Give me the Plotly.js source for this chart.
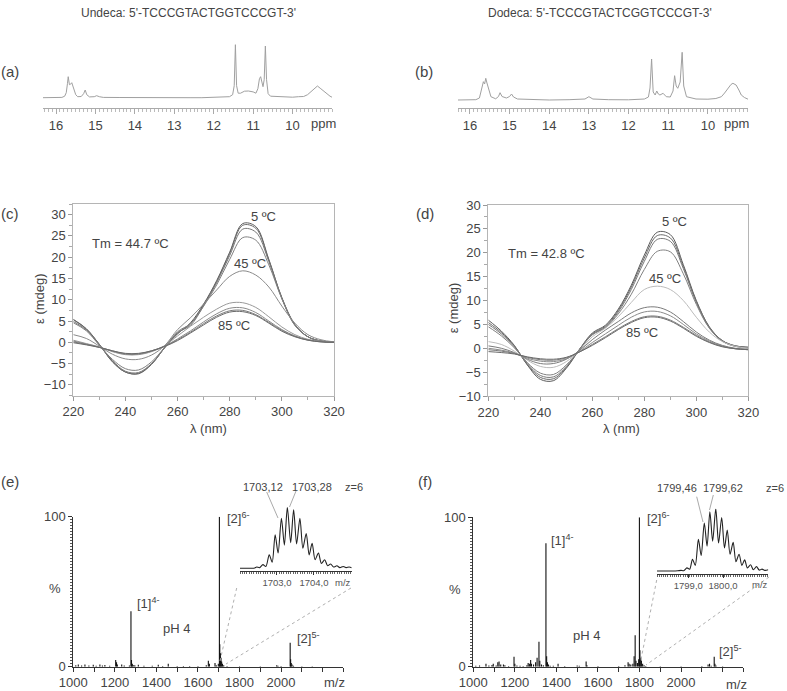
<!DOCTYPE html>
<html><head><meta charset="utf-8">
<script src="https://cdn.plot.ly/plotly-3.0.1.min.js"></script>
<style>html,body{margin:0;padding:0;background:#fff;}#chart{width:787px;height:691px;}</style>
</head><body><div id="chart"></div>
<script>
// ---------------- DATA ----------------
// (a) 1H NMR, Undeca  (ppm, intensity in arbitrary units)
const nmrA_ppm = [16.33,15.85,15.78,15.74,15.71,15.69,15.66,15.63,15.60,15.57,15.54,15.50,15.45,15.36,15.30,15.26,15.22,15.15,15.03,14.97,14.90,14.80,14.4,14.0,13.5,13.0,12.6,12.3,11.9,11.6,11.52,11.48,11.45,11.42,11.38,11.32,11.22,11.12,11.00,10.93,10.88,10.84,10.81,10.77,10.75,10.72,10.69,10.66,10.62,10.56,10.3,10.0,9.85,9.72,9.62,9.50,9.42,9.37,9.30,9.20,9.13,9.05,9.00];
const nmrA_int = [0,0.3,1.5,5,14,21,13,13.5,15,12,9,3,1,1.2,4,7.7,3,0.8,1,2,1,0.3,0.2,0,0.2,-0.3,0,0,0.5,1,3,12,53,12,4.5,4.5,6.5,6.7,5.8,4.5,9,19,21,12,11,18,51.7,18,4,1.5,0.8,0.5,1,1.2,3,7,10,11.7,9.5,6,4,1.5,0.5];
// (b) 1H NMR, Dodeca
const nmrB_ppm = [16.30,15.85,15.76,15.70,15.66,15.63,15.60,15.57,15.54,15.50,15.47,15.35,15.28,15.24,15.19,15.08,15.00,14.95,14.90,14.80,14.4,14.0,13.5,13.1,13.0,12.9,12.5,12.0,11.6,11.50,11.46,11.42,11.38,11.33,11.29,11.25,11.21,11.13,11.05,10.95,10.88,10.84,10.80,10.76,10.70,10.65,10.61,10.54,10.3,10.0,9.80,9.66,9.58,9.50,9.42,9.37,9.32,9.29,9.22,9.16,9.08,9.01,8.99];
const nmrB_int = [0,0.3,2,12,18.3,16,21.7,17,13.3,7,3.3,1.2,3.5,7.3,3.5,2,3.5,6,3,1,0.5,0,0.3,1,3.3,1,0.3,0.2,1,3,12,41,8,5,9,6,5,6.7,3.3,3,9,24.3,14,11.7,18,47.7,14,3.3,1,0.8,1.5,3.3,7,11.7,15.5,16.7,16,15,10,5,2.5,1,0.8];
const nmrTickVals = [10,11,12,13,14,15,16];

// (c)/(d) CD spectra: wavelength (nm) and ellipticity (mdeg) per temperature
const cdWavelength = [220,225,230,235,240,245,250,255,260,265,270,275,280,285,290,295,300,305,310,315,320];
const cdTemps = ['5 ºC','15 ºC','25 ºC','35 ºC','45 ºC','55 ºC','65 ºC','75 ºC','85 ºC'];
const cdUndeca_5  = [5.4,3.2,-0.5,-4.6,-7.0,-7.4,-5.2,-1.3,2.0,4.6,9.0,14.5,21.2,27.9,27.2,19.5,10.5,4.2,1.3,0.3,0.0];
const cdUndeca_15 = [5.3,3.1,-0.5,-4.5,-7.0,-7.3,-5.1,-1.3,2.1,4.3,8.8,14.3,20.9,27.5,26.8,19.3,10.4,4.1,1.3,0.3,0.0];
const cdUndeca_25 = [4.9,2.9,-0.6,-4.3,-6.8,-7.1,-5.0,-1.3,2.3,4.0,8.6,14.0,20.4,26.6,25.9,19.0,10.3,4.0,1.3,0.3,0.0];
const cdUndeca_35 = [4.6,2.7,-0.7,-4.0,-6.2,-6.5,-4.6,-1.2,2.5,4.4,8.5,13.5,19.5,24.6,24.0,18.2,10.2,4.0,1.3,0.3,0.0];
const cdUndeca_45 = [1.8,0.9,-0.9,-2.8,-3.9,-4.0,-3.0,-0.8,3.0,5.8,9.0,12.3,15.5,16.8,15.8,13.0,8.5,4.5,1.8,0.6,0.1];
const cdUndeca_55 = [0.5,-0.3,-1.1,-2.2,-2.9,-2.9,-2.2,-0.8,1.5,3.8,5.9,7.8,9.2,9.3,8.2,6.0,3.6,1.8,0.7,0.2,0.0];
const cdUndeca_65 = [0.3,-0.4,-1.1,-2.1,-2.8,-2.8,-2.1,-0.9,0.8,2.7,4.8,6.7,8.0,8.1,7.0,5.0,3.0,1.5,0.6,0.2,0.0];
const cdUndeca_75 = [0.1,-0.5,-1.2,-2.0,-2.7,-2.7,-2.0,-0.9,0.6,2.4,4.4,6.2,7.4,7.5,6.5,4.7,2.8,1.4,0.5,0.1,0.0];
const cdUndeca_85 = [-0.1,-0.6,-1.2,-2.0,-2.6,-2.6,-2.0,-1.0,0.4,2.2,4.1,5.9,7.1,7.2,6.3,4.5,2.6,1.3,0.5,0.1,0.0];
const cdDodeca_5  = [5.9,3.6,0.6,-3.5,-6.5,-6.8,-4.2,-0.3,3.2,4.8,8.2,13.2,19.5,24.3,23.8,17.5,10.0,4.5,1.6,0.5,0.2];
const cdDodeca_15 = [5.4,3.3,0.5,-3.4,-6.1,-6.4,-4.0,-0.3,3.0,4.6,7.9,12.8,18.9,23.6,23.1,17.1,9.8,4.4,1.6,0.5,0.2];
const cdDodeca_25 = [5.0,3.0,0.3,-3.2,-5.7,-6.0,-3.8,-0.3,2.9,4.4,7.6,12.3,18.2,22.8,22.4,16.7,9.6,4.3,1.5,0.4,0.1];
const cdDodeca_35 = [4.5,2.6,0.1,-3.0,-5.2,-5.5,-3.5,-0.3,2.8,4.3,7.2,11.3,16.5,20.3,20.2,15.6,9.2,4.2,1.5,0.4,0.1];
const cdDodeca_45 = [1.4,0.8,-0.6,-2.5,-3.8,-4.0,-2.8,-0.5,2.4,4.2,6.6,9.6,12.3,13.0,12.3,10.0,6.5,3.4,1.4,0.4,0.0];
const cdDodeca_55 = [0.5,0.0,-0.9,-2.3,-3.2,-3.2,-2.3,-0.5,1.8,3.8,5.6,7.4,8.5,8.6,7.6,5.6,3.4,1.7,0.6,0.0,-0.2];
const cdDodeca_65 = [0.0,-0.4,-1.0,-2.1,-2.7,-2.8,-2.2,-0.7,1.2,3.0,4.8,6.5,7.6,7.7,6.8,5.0,3.0,1.5,0.5,-0.1,-0.3];
const cdDodeca_75 = [-0.3,-0.6,-1.1,-1.9,-2.4,-2.5,-2.0,-0.8,0.8,2.4,4.1,5.6,6.6,6.7,5.9,4.4,2.7,1.3,0.4,-0.1,-0.3];
const cdDodeca_85 = [-0.7,-0.9,-1.2,-1.8,-2.2,-2.3,-1.9,-0.8,0.6,2.2,3.9,5.4,6.4,6.5,5.7,4.2,2.5,1.2,0.3,-0.1,-0.3];

// (e)/(f) ESI-MS: m/z and relative intensity (%)
const msUndeca_mz  = [1012,1024,1040,1056,1075,1096,1110,1128,1140,1152,1175,1204,1208,1212,1233,1245,1270,1277.5,1280,1284,1288,1296,1313,1340,1380,1409,1430,1457,1500,1530,1560,1600,1640,1650,1655,1682,1688,1698,1703.2,1705,1708,1711,1714,1718,1724,1740,1800,1900,1979,1985,2000,2043.8,2046,2049,2053,2060,2100,2150];
const msUndeca_int = [1.0,1.5,0.8,1.5,0.8,1.3,0.7,1.5,0.8,1.2,0.6,4.5,3.0,1.5,1.5,0.8,0.8,36.9,4.5,2.0,1.2,1.0,1.3,0.6,0.6,1.3,0.5,2.0,0.5,0.5,0.4,0.5,1.0,4.0,2.0,2.5,1.0,2.0,100,15,9,6,3.5,2,1.0,0.5,0.3,0.3,1.0,0.6,0.4,16.0,5,2.5,1.5,0.7,0.3,0.3];
const msDodeca_mz  = [1012,1030,1061,1075,1090,1096,1110,1118,1124,1132,1145,1152,1170,1196,1200,1210,1225,1240,1258,1264,1270,1276,1280,1290,1300,1307,1316,1320,1328,1337,1349.6,1353,1357,1362,1370,1385,1408,1440,1500,1510,1543,1547,1600,1700,1730,1745,1750,1758,1768,1774,1779,1783,1790,1796,1799.5,1802,1806,1809,1815,1822,1830,1900,2000,2100,2130,2137,2145,2159.5,2163,2168,2200];
const msDodeca_int = [0.6,0.8,2.0,0.8,1.2,2.0,0.8,3.0,3.5,1.5,1.5,1.0,0.5,6.7,2.0,0.8,0.6,0.5,1.0,2.5,2.0,4.5,2.0,1.5,3.0,6.0,16.7,4,1.5,1.0,82.6,7,3,1.5,0.6,0.6,2.0,0.4,0.8,0.6,3.5,1.0,0.4,0.5,1.0,3.0,2.0,1.5,2.0,7.0,21,4,2.5,5,100,11,6,4,2,1,0.5,0.3,0.3,0.4,1.5,2.0,0.6,6.7,2,0.8,0.3];
const msTickVals = [1000,1200,1400,1600,1800,2000];
const msTickText = ['1000','1200','1400','1600','1800','2000'];

// insets: isotopic profile of [2]6-
const isoUndeca_mz  = [1702.00,1702.30,1702.40,1702.45,1702.53,1702.62,1702.70,1702.79,1702.87,1702.95,1703.03,1703.12,1703.20,1703.28,1703.37,1703.45,1703.53,1703.62,1703.70,1703.79,1703.87,1703.95,1704.03,1704.12,1704.20,1704.29,1704.37,1704.45,1704.53,1704.62,1704.70,1704.79,1704.87,1704.95,1705.02];
const isoUndeca_int = [0,0,0.5,2,1,6,3,22,10,55,25,82,38,100,42,96,40,82,33,57,22,41,14,25,8,14,4,7,2,4,1,3,1,2,1];
const isoDodeca_mz  = [1798.10,1798.62,1798.70,1798.79,1798.87,1798.96,1799.04,1799.12,1799.20,1799.29,1799.37,1799.46,1799.54,1799.62,1799.70,1799.79,1799.87,1799.96,1800.04,1800.12,1800.20,1800.29,1800.37,1800.46,1800.54,1800.62,1800.70,1800.79,1800.87,1800.96,1801.04,1801.12,1801.20,1801.30];
const isoDodeca_int = [0,0,0.3,1,0.5,5,3,19,9,51,25,77,40,95,48,100,45,86,37,66,27,46,15,27,9,18,5,10,2,7,1.5,3,1,2];
const isoUndecaTicks = [1703,1704], isoUndecaText = ['1703,0','1704,0'];
const isoDodecaTicks = [1799,1800], isoDodecaText = ['1799,0','1800,0'];

// ---------------- HELPERS ----------------
const W = 787, H = 691;
const X = p => p / W, Y = p => 1 - p / H;
const dx = (a, b) => [a / W, b / W];
const dy = (top, bottom) => [1 - bottom / H, 1 - top / H];
const FONT = 'Liberation Sans, Arial, Helvetica, sans-serif';
const TXT = '#444';
function sticks(mz, inten) {
  const x = [], y = [];
  for (let i = 0; i < mz.length; i++) { x.push(mz[i], mz[i], null); y.push(0, inten[i], null); }
  return {x, y};
}

// ---------------- TRACES ----------------
const traces = [];
traces.push({x: nmrA_ppm, y: nmrA_int, xaxis: 'x', yaxis: 'y', mode: 'lines', line: {color: '#a0a0a0', width: 1}});
traces.push({x: nmrB_ppm, y: nmrB_int, xaxis: 'x2', yaxis: 'y2', mode: 'lines', line: {color: '#a0a0a0', width: 1}});

const cdU = [cdUndeca_5, cdUndeca_15, cdUndeca_25, cdUndeca_35, cdUndeca_45, cdUndeca_55, cdUndeca_65, cdUndeca_75, cdUndeca_85];
const cdD = [cdDodeca_5, cdDodeca_15, cdDodeca_25, cdDodeca_35, cdDodeca_45, cdDodeca_55, cdDodeca_65, cdDodeca_75, cdDodeca_85];
const cdColorsU = ['#5a5a5a', '#6a6a6a', '#777', '#808080', '#8a8a8a', '#999', '#8a8a8a', '#7a7a7a', '#6a6a6a'];
const cdColorsD = ['#5a5a5a', '#6a6a6a', '#777', '#808080', '#bbb', '#7a7a7a', '#8a8a8a', '#7a7a7a', '#6a6a6a'];
cdU.forEach((s, i) => traces.push({x: cdWavelength, y: s, name: cdTemps[i], xaxis: 'x3', yaxis: 'y3', mode: 'lines', line: {color: cdColorsU[i], width: 1, shape: 'spline', smoothing: 1}}));
cdD.forEach((s, i) => traces.push({x: cdWavelength, y: s, name: cdTemps[i], xaxis: 'x4', yaxis: 'y4', mode: 'lines', line: {color: cdColorsD[i], width: 1, shape: 'spline', smoothing: 1}}));

const sE = sticks(msUndeca_mz, msUndeca_int), sF = sticks(msDodeca_mz, msDodeca_int);
traces.push({x: sE.x, y: sE.y, xaxis: 'x5', yaxis: 'y5', mode: 'lines', line: {color: '#111', width: 1.1}, connectgaps: false});
traces.push({x: sF.x, y: sF.y, xaxis: 'x6', yaxis: 'y6', mode: 'lines', line: {color: '#111', width: 1.1}, connectgaps: false});
traces.push({x: isoUndeca_mz, y: isoUndeca_int, xaxis: 'x7', yaxis: 'y7', mode: 'lines', line: {color: '#222', width: 1.1, shape: 'spline', smoothing: 0.8}});
traces.push({x: isoDodeca_mz, y: isoDodeca_int, xaxis: 'x8', yaxis: 'y8', mode: 'lines', line: {color: '#222', width: 1.1, shape: 'spline', smoothing: 0.8}});

// ---------------- AXES ----------------
const tf = (s, c) => ({family: FONT, size: s, color: c || TXT});
function nmrX(dom, range, anchor) {
  return {domain: dom, range: range, anchor: anchor, showline: true, linecolor: '#aaa', linewidth: 1,
    ticks: 'outside', ticklen: 5, tickcolor: '#aaa', tickmode: 'array', tickvals: nmrTickVals,
    minor: {tickmode: 'linear', tick0: 0, dtick: 0.1, ticklen: 2.5, tickcolor: '#bbb', ticks: 'outside'},
    showgrid: false, zeroline: false, tickfont: tf(13)};
}
function cdX(dom, anchor) {
  return {domain: dom, range: [220, 320], anchor: anchor, showline: true, mirror: true, linecolor: '#b5b5b5',
    ticks: 'outside', ticklen: 4, tickcolor: '#999', tickmode: 'linear', tick0: 0, dtick: 20,
    minor: {dtick: 10, ticklen: 3, tickcolor: '#aaa', ticks: 'outside'},
    showgrid: false, zeroline: false, tickfont: tf(13)};
}
function cdY(dom, range, anchor) {
  return {domain: dom, range: range, anchor: anchor, showline: true, mirror: true, linecolor: '#b5b5b5',
    ticks: 'outside', ticklen: 4, tickcolor: '#999', tickmode: 'linear', tick0: 0, dtick: 5,
    minor: {dtick: 2.5, ticklen: 3, tickcolor: '#aaa', ticks: 'outside'},
    showgrid: false, zeroline: false, tickfont: tf(13)};
}
function msX(dom, anchor) {
  return {domain: dom, range: [1000, 2300], anchor: anchor, showline: true, linecolor: '#333', linewidth: 1,
    ticks: 'outside', ticklen: 4, tickcolor: '#333', tickmode: 'array', tickvals: msTickVals, ticktext: msTickText,
    minor: {tickmode: 'linear', tick0: 1000, dtick: 100, ticklen: 4, tickcolor: '#333', ticks: 'outside'},
    showgrid: false, zeroline: false, tickfont: tf(13)};
}
function msY(dom, anchor) {
  return {domain: dom, range: [0, 100], anchor: anchor, showline: true, linecolor: '#333', linewidth: 1,
    ticks: 'outside', ticklen: 4, tickcolor: '#333', tickmode: 'linear', tick0: 0, dtick: 100,
    minor: {dtick: 2, ticklen: 2.5, tickcolor: '#555', ticks: 'outside'},
    showgrid: false, zeroline: false, tickfont: tf(13)};
}
function insX(dom, range, anchor, tv, tt) {
  return {domain: dom, range: range, anchor: anchor, showline: true, linecolor: '#333', linewidth: 1,
    ticks: 'outside', ticklen: 3, tickcolor: '#333', tickmode: 'array', tickvals: tv, ticktext: tt,
    minor: {tickmode: 'linear', tick0: range[0], dtick: 0.0625, ticklen: 2, tickcolor: '#666', ticks: 'outside'},
    showgrid: false, zeroline: false, tickfont: tf(9.5, '#555')};
}
const hidY = (dom, range, anchor) => ({domain: dom, range: range, anchor: anchor, visible: false, fixedrange: true});

// ---------------- ANNOTATIONS ----------------
const ann = [];
function T(text, x, y, size, opts) {
  ann.push(Object.assign({text: text, x: X(x), y: Y(y), xref: 'paper', yref: 'paper', showarrow: false,
    xanchor: 'center', yanchor: 'middle', font: tf(size)}, opts || {}));
}
T("Undeca: 5'-TCCCGTACTGGTCCCGT-3'", 188.5, 13.3, 12);
T("Dodeca: 5'-TCCCGTACTCGGTCCCGT-3'", 600, 13.3, 12);
T('(a)', 10, 72, 15); T('(b)', 424, 72, 15); T('(c)', 10, 213, 15);
T('(d)', 425, 213, 15); T('(e)', 10, 482, 15); T('(f)', 425, 482, 15);
T('ppm', 323, 124, 13); T('ppm', 736.7, 124, 13);
T('Tm = 44.7 ºC', 130.5, 243.3, 13); T('Tm = 42.8 ºC', 546.7, 253.3, 13);
T('5 ºC', 263, 216.7, 13); T('45 ºC', 250, 263.3, 13); T('85 ºC', 233.7, 325.7, 13);
T('5 ºC', 674, 221.7, 13); T('45 ºC', 665, 278.3, 13); T('85 ºC', 642, 332.3, 13);
T('ε (mdeg)', 40, 299, 13, {textangle: -90}); T('ε (mdeg)', 453.3, 308, 13, {textangle: -90});
T('λ (nm)', 208, 428.3, 13); T('λ (nm)', 621.7, 428.3, 13);
// MS
T('[2]<sup>6-</sup>', 225, 518, 13, {xanchor: 'left'});
T('[1]<sup>4-</sup>', 135, 603, 13, {xanchor: 'left'});
T('pH 4', 176.7, 628, 13);
T('[2]<sup>5-</sup>', 295, 638, 13, {xanchor: 'left'});
T('%', 55, 588, 13); T('m/z', 334, 682.7, 13);
T('1703,12', 263.3, 486.7, 11); T('1703,28', 311.7, 486.7, 11); T('z=6', 354, 486.7, 11);
T('m/z', 343, 582, 9.5, {font: tf(9.5, '#555')});
T('[2]<sup>6-</sup>', 645, 518, 13, {xanchor: 'left'});
T('[1]<sup>4-</sup>', 549, 540, 13, {xanchor: 'left'});
T('pH 4', 586.7, 635, 13);
T('[2]<sup>5-</sup>', 716.7, 650.7, 13, {xanchor: 'left'});
T('%', 455, 589, 13); T('m/z', 736, 684, 13);
T('1799,46', 676.7, 488.3, 11); T('1799,62', 723.3, 488.3, 11); T('z=6', 786, 488.3, 11, {xanchor: 'right'});
T('m/z', 760, 584, 9.5, {font: tf(9.5, '#555')});

// ---------------- SHAPES (connectors / leaders) ----------------
function L(x0, y0, x1, y1, dash, color) {
  return {type: 'line', xref: 'paper', yref: 'paper', x0: X(x0), y0: Y(y0), x1: X(x1), y1: Y(y1),
    line: {color: color || '#b0b0b0', width: 1, dash: dash || 'solid'}};
}
const shapes = [
  L(236.7, 588, 220, 661, 'dot'), L(351, 588, 226, 664, 'dot'),
  L(656.7, 580, 640.5, 662, 'dot'), L(769, 577, 646, 665, 'dot'),
  L(266.7, 492, 278, 518, 'solid', '#aaa'), L(296, 491, 289.5, 507, 'solid', '#aaa'),
  L(696.7, 496.7, 703, 522, 'solid', '#aaa'), L(713.3, 495, 709.5, 510, 'solid', '#aaa')
];

const layout = {
  width: W, height: H, margin: {l: 0, r: 0, t: 0, b: 0},
  paper_bgcolor: '#fff', plot_bgcolor: 'rgba(0,0,0,0)', showlegend: false,
  font: {family: FONT, color: TXT},
  xaxis: nmrX(dx(43, 332), [16.33, 9.0], 'y'),
  yaxis: hidY(dy(40, 108), [-10.3, 57.7], 'x'),
  xaxis2: nmrX(dx(458, 748), [16.30, 8.99], 'y2'),
  yaxis2: hidY(dy(40, 108), [-8, 60], 'x2'),
  xaxis3: cdX(dx(73.3, 334), 'y3'),
  yaxis3: cdY(dy(204, 395.5), [-12.5, 32.5], 'x3'),
  xaxis4: cdX(dx(488.3, 748.3), 'y4'),
  yaxis4: cdY(dy(205, 396), [-10, 30], 'x4'),
  xaxis5: msX(dx(73.3, 343.4), 'y5'),
  yaxis5: msY(dy(516.7, 666.7), 'x5'),
  xaxis6: msX(dx(473.3, 743.4), 'y6'),
  yaxis6: msY(dy(517.3, 666.7), 'x6'),
  xaxis7: insX(dx(240, 351.7), [1702, 1705.02], 'y7', isoUndecaTicks, isoUndecaText),
  yaxis7: hidY(dy(507.3, 570.7), [-4, 100], 'x7'),
  xaxis8: insX(dx(657, 768.3), [1798.1, 1801.3], 'y8', isoDodecaTicks, isoDodecaText),
  yaxis8: hidY(dy(508.8, 573.5), [-4, 100], 'x8'),
  annotations: ann, shapes: shapes
};
Plotly.newPlot('chart', traces, layout, {displayModeBar: false, staticPlot: true});
</script></body></html>
